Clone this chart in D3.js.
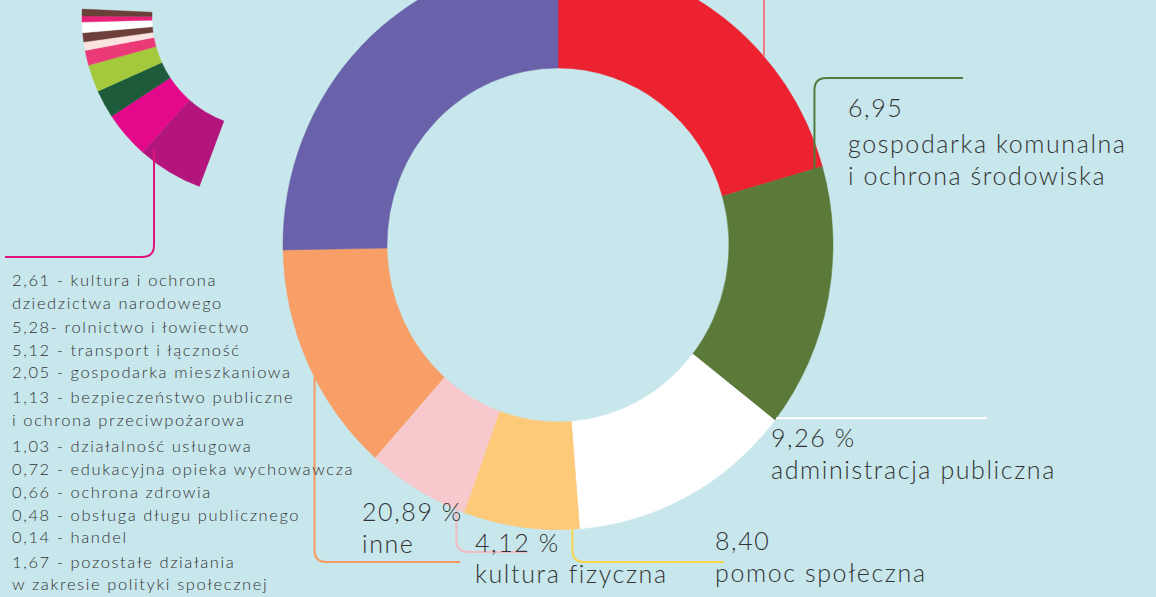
<html>
  <meta charset="utf-8" />
  <script src="https://d3js.org/d3.v7.min.js"></script>
  <body style="margin: 0; background: #c7e7ec;">
    <svg width="1156" height="597" id="svg_Donut"></svg>

    <script>
      // main ring, clockwise from 12 o'clock. shares are the angles (deg),
      // the ring is not drawn to scale of the printed numbers
      const sliceNames = ["(red, label cut off)", "gospodarka komunalna i ochrona środowiska", "administracja publiczna",
        "pomoc społeczna", "kultura fizyczna", "inne", "(purple, label cut off)"];
      const sliceShares = [74, 54, 47.5, 24.5, 21.7, 47.3, 91];
      const sliceColors = ["#ec2230", "#5b7a3a", "#ffffff", "#fdca79", "#f8c9cc", "#f89f67", "#6961aa"];

      // "inne" broken down
      const inneValues = [2.61, 5.28, 5.12, 2.05, 1.13, 1.03, 0.72, 0.66, 0.48, 0.14, 1.67];
      const inneLines = [
        ["2,61 - kultura i ochrona", "dziedzictwa narodowego"],
        ["5,28- rolnictwo i łowiectwo"],
        ["5,12 - transport i łączność"],
        ["2,05 - gospodarka mieszkaniowa"],
        ["1,13 - bezpieczeństwo publiczne", "i ochrona przeciwpożarowa"],
        ["1,03 - działalność usługowa"],
        ["0,72 - edukacyjna opieka wychowawcza"],
        ["0,66 - ochrona zdrowia"],
        ["0,48 - obsługa długu publicznego"],
        ["0,14 - handel"],
        ["1,67 - pozostałe działania", "w zakresie polityki społecznej"],
      ];

      // small exploded arc top-left, bands from the bottom up (angles, deg)
      const partShares = [21, 15, 9, 8.7, 4.8, 2.7, 2.9, 3.4, 1.9, 2.2];
      const partColors = ["#b3157d", "#e4088b", "#1d5b3b", "#a5c93c", "#ec3a78", "#fbe3e0", "#6e3f3a", "#ffffff", "#ea2178", "#6b4038"];

      const rad = Math.PI / 180;
      const svg = d3.select("svg");

      const cx = 558, cy = 245, sy = 1.035;
      const outerR = 275, innerR = 171;

      function pointAt(deg, r) {
        return [cx + r * Math.sin(deg * rad), cy - r * Math.cos(deg * rad) * sy];
      }

      function elbow(x0, y0, ye, xe, r) {
        const dy = Math.sign(ye - y0), dx = Math.sign(xe - x0);
        return `M${x0},${y0}V${ye - dy * r}Q${x0},${ye} ${x0 + dx * r},${ye}H${xe}`;
      }

      const arc = d3.arc().innerRadius(innerR).outerRadius(outerR);
      const pie = d3.pie().sort(null).value((d) => d);
      const slices = pie(sliceShares);

      const ring = svg.append("g")
        .attr("transform", `translate(${cx}, ${cy}) scale(1, ${sy})`);

      ring.selectAll(".slice")
        .data(slices)
        .enter()
        .append("path")
        .attr("class", "slice")
        .attr("d", arc)
        .attr("fill", (d, i) => sliceColors[i])
        .attr("stroke", (d, i) => sliceColors[i])
        .attr("stroke-width", 0.5);

      // faint seams inside "inne"
      const inneSlice = slices[5];
      const seams = d3.pie().sort(null).value((d) => d)
        .startAngle(inneSlice.startAngle).endAngle(inneSlice.endAngle)(inneValues);
      ring.selectAll(".seam")
        .data(seams.slice(1))
        .enter()
        .append("line")
        .attr("class", "seam")
        .attr("x1", (d) => innerR * Math.sin(d.startAngle))
        .attr("y1", (d) => -innerR * Math.cos(d.startAngle))
        .attr("x2", (d) => outerR * Math.sin(d.startAngle))
        .attr("y2", (d) => -outerR * Math.cos(d.startAngle))
        .attr("stroke", "#ffd2ad")
        .attr("stroke-opacity", 0.1)
        .attr("stroke-width", 0.6);

      // exploded arc
      const partArc = d3.arc().innerRadius(111).outerRadius(181);
      const parts = d3.pie().sort(null).value((d) => d)
        .startAngle(200.6 * rad).endAngle(272.5 * rad)(partShares);
      svg.append("g")
        .attr("transform", "translate(263, 17)")
        .selectAll("path")
        .data(parts)
        .enter()
        .append("path")
        .attr("d", partArc)
        .attr("fill", (d, i) => partColors[i])
        .attr("stroke", (d, i) => partColors[i])
        .attr("stroke-width", 0.4);

      // leader lines
      const leaders = [
        { deg: 48.5, r: outerR, ye: -5, xe: null, color: "#f27a80" },
        { deg: 74.6, r: 266, ye: 78, xe: 963, color: "#4f7d3c" },
        { deg: 127.5, r: outerR, ye: null, xe: 987, color: "#ffffff" },
        { deg: 177, r: outerR, ye: 562, xe: 724, color: "#f9d44c" },
        { deg: 201.7, r: outerR, ye: 552, xe: 527, color: "#f3bcc2" },
        { deg: 242.3, r: outerR, ye: 562, xe: 460, color: "#f7995e" },
      ];
      leaders.forEach((l) => {
        const [x0, y0] = pointAt(l.deg, l.r);
        let d;
        if (l.xe === null) d = `M${x0},${y0}V${l.ye}`;
        else if (l.ye === null) d = `M${x0},${y0}H${l.xe}`;
        else d = elbow(x0, y0, l.ye, l.xe, 12);
        svg.append("path")
          .attr("d", d)
          .attr("fill", "none")
          .attr("stroke", l.color)
          .attr("stroke-width", 2);
      });
      svg.append("path")
        .attr("d", elbow(154, 150, 257, 5, 12))
        .attr("fill", "none")
        .attr("stroke", "#e2127f")
        .attr("stroke-width", 2);

      // big labels
      const bigLabels = [
        { x: 848, y: 117, lines: ["6,95", "gospodarka komunalna", "i ochrona środowiska"], dy: [0, 36, 32] },
        { x: 771, y: 447, lines: ["9,26 %", "administracja publiczna"], dy: [0, 32] },
        { x: 715, y: 550, lines: ["8,40", "pomoc społeczna"], dy: [0, 32] },
        { x: 362, y: 521, lines: ["20,89 %", "inne"], dy: [0, 32] },
        { x: 475, y: 552, lines: ["4,12 %", "kultura fizyczna"], dy: [0, 31] },
      ];
      bigLabels.forEach((b) => {
        const t = svg.append("text")
          .attr("x", b.x)
          .attr("y", b.y)
          .attr("font-family", "Lato, sans-serif")
          .attr("font-weight", 300)
          .attr("font-size", 25)
          .attr("letter-spacing", 1.6)
          .attr("fill", "#333");
        b.lines.forEach((s, i) => {
          t.append("tspan").attr("x", b.x).attr("dy", b.dy[i]).text(s);
        });
      });

      // list of "inne"
      const listBase = [286, 309, 333, 356, 378, 403, 426, 452, 475, 498, 521, 543, 568, 590];
      const flat = inneLines.flat();
      svg.append("g")
        .selectAll("text")
        .data(flat)
        .enter()
        .append("text")
        .attr("x", 12)
        .attr("y", (d, i) => listBase[i])
        .attr("font-family", "Lato, sans-serif")
        .attr("font-weight", 300)
        .attr("font-size", 16.5)
        .attr("letter-spacing", 1.6)
        .attr("fill", "#333")
        .text((d) => d);
    </script>
  </body>
</html>
